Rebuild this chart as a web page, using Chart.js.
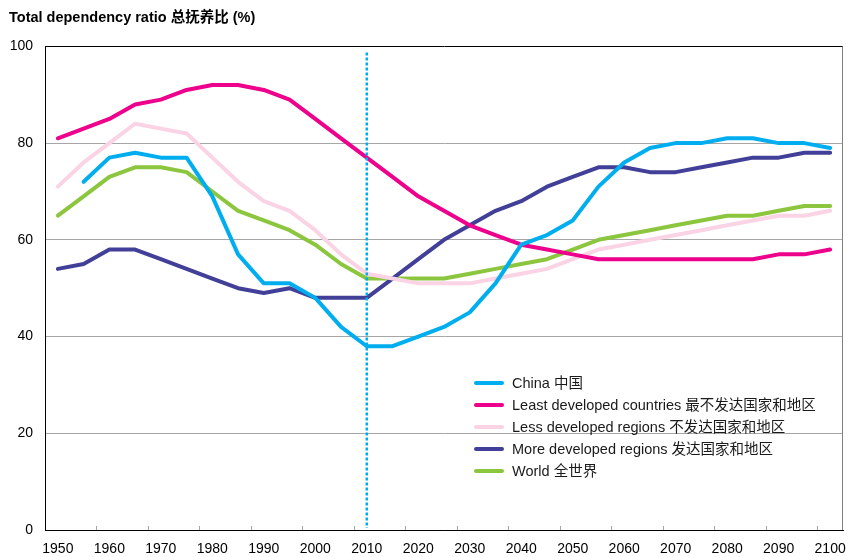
<!DOCTYPE html>
<html>
<head>
<meta charset="utf-8">
<script src="https://cdn.jsdelivr.net/npm/chart.js@4"></script>
<style>
  html, body { margin: 0; padding: 0; background: #fff; }
  #wrap { width: 848px; height: 557px; position: relative; }
</style>
</head>
<body>
<div id="wrap"><canvas id="chart"></canvas></div>
<script>
const years = ["1950", "1955", "1960", "1965", "1970", "1975", "1980", "1985", "1990", "1995",
  "2000", "2005", "2010", "2015", "2020", "2025", "2030", "2035", "2040", "2045",
  "2050", "2055", "2060", "2065", "2070", "2075", "2080", "2085", "2090", "2095", "2100"];

const china = [null, 72, 77, 78, 77, 77, 69, 57, 51, 51, 48, 42, 38, 38, 40, 42, 45, 51, 59, 61,
  64, 71, 76, 79, 80, 80, 81, 81, 80, 80, 79];
const leastDeveloped = [81, 83, 85, 88, 89, 91, 92, 92, 91, 89, 85, 81, 77, 73, 69, 66, 63, 61, 59, 58,
  57, 56, 56, 56, 56, 56, 56, 56, 57, 57, 58];
const lessDeveloped = [71, 76, 80, 84, 83, 82, 77, 72, 68, 66, 62, 57, 53, 52, 51, 51, 51, 52, 53, 54,
  56, 58, 59, 60, 61, 62, 63, 64, 65, 65, 66];
const moreDeveloped = [54, 55, 58, 58, 56, 54, 52, 50, 49, 50, 48, 48, 48, 52, 56, 60, 63, 66, 68, 71,
  73, 75, 75, 74, 74, 75, 76, 77, 77, 78, 78];
const world = [65, 69, 73, 75, 75, 74, 70, 66, 64, 62, 59, 55, 52, 52, 52, 52, 53, 54, 55, 56,
  58, 60, 61, 62, 63, 64, 65, 65, 66, 67, 67];

const markerYear = "2010";
const font = "'Liberation Sans', Arial, 'Noto Sans CJK SC', sans-serif";

function line(label, data, color) {
  return { label, data, borderColor: color, backgroundColor: color, borderWidth: 4,
    pointRadius: 0, tension: 0, borderCapStyle: "round", borderJoinStyle: "round" };
}

// legend sits inside the plot, no box
const insideLegend = {
  id: "insideLegend",
  afterDraw(chart) {
    const ctx = chart.ctx;
    ctx.save();
    ctx.font = "14.5px " + font;
    ctx.textBaseline = "middle";
    chart.data.datasets.forEach((ds, i) => {
      const y = 383 + i * 22;
      ctx.strokeStyle = ds.borderColor;
      ctx.lineWidth = 4;
      ctx.lineCap = "round";
      ctx.beginPath();
      ctx.moveTo(476, y);
      ctx.lineTo(502, y);
      ctx.stroke();
      ctx.fillStyle = "#1a1a1a";
      ctx.fillText(ds.label, 512, y + 1);
    });
    ctx.restore();
  }
};

// right border, inward tick marks and the dotted 2010 line
const frame = {
  id: "frame",
  afterDatasetsDraw(chart) {
    const { ctx, chartArea: a } = chart;
    const x = chart.scales.x;
    const half = (x.getPixelForValue(1) - x.getPixelForValue(0)) / 2;
    ctx.save();
    ctx.lineWidth = 1;
    ctx.strokeStyle = "#808080";
    ctx.beginPath();
    ctx.moveTo(a.right - 0.5, a.top);
    ctx.lineTo(a.right - 0.5, a.bottom);
    ctx.stroke();
    ctx.strokeStyle = "#a6a6a6";
    ctx.beginPath();
    for (let i = 2; i < years.length; i += 2) {
      const px = Math.round(x.getPixelForValue(i) - half) + 0.5;
      ctx.moveTo(px, a.bottom);
      ctx.lineTo(px, a.bottom - 4);
    }
    ctx.stroke();

    const mx = x.getPixelForValue(years.indexOf(markerYear));
    ctx.strokeStyle = "#00aeef";
    ctx.lineWidth = 2.5;
    ctx.setLineDash([3, 2]);
    ctx.beginPath();
    ctx.moveTo(mx, a.top + 6);
    ctx.lineTo(mx, a.bottom - 2);
    ctx.stroke();
    ctx.restore();
  }
};

new Chart(document.getElementById("chart"), {
  type: "line",
  data: {
    labels: years,
    datasets: [
      line("China 中国", china, "#00aeef"),
      line("Least developed countries 最不发达国家和地区", leastDeveloped, "#ec008c"),
      line("Less developed regions 不发达国家和地区", lessDeveloped, "#fad4e4"),
      line("More developed regions 发达国家和地区", moreDeveloped, "#413f98"),
      line("World 全世界", world, "#8cc63f"),
    ],
  },
  options: {
    responsive: true,
    maintainAspectRatio: false,
    animation: false,
    layout: { padding: { left: 9, right: 5, top: 0, bottom: 0 } },
    plugins: {
      legend: { display: false },
      tooltip: { enabled: false },
      title: {
        display: true,
        text: "Total dependency ratio 总抚养比 (%)",
        align: "start",
        color: "#000",
        font: { family: font, size: 14.5, weight: "bold" },
        padding: { top: 9, bottom: 20 },
      },
    },
    scales: {
      x: {
        offset: true,
        afterFit: (s) => { s.height = 27; s.paddingLeft = 0; s.paddingRight = 0; },
        grid: { drawOnChartArea: false, drawTicks: false },
        border: { color: "#000", width: 1 },
        ticks: {
          autoSkip: false,
          maxRotation: 0,
          padding: 11,
          color: "#000",
          font: { family: font, size: 14 },
          callback: (v, i) => (i % 2 === 0 ? years[i] : ""),
        },
      },
      y: {
        min: 0,
        max: 100,
        afterFit: (s) => { s.width = 36; },
        grid: {
          drawTicks: false,
          color: (c) => (c.tick.value === 0 || c.tick.value === 100 ? "#000" : "#a6a6a6"),
        },
        border: { color: "#000", width: 1 },
        ticks: {
          stepSize: 20,
          padding: 12,
          color: "#000",
          font: { family: font, size: 14 },
        },
      },
    },
  },
  plugins: [frame, insideLegend],
});
</script>
</body>
</html>
